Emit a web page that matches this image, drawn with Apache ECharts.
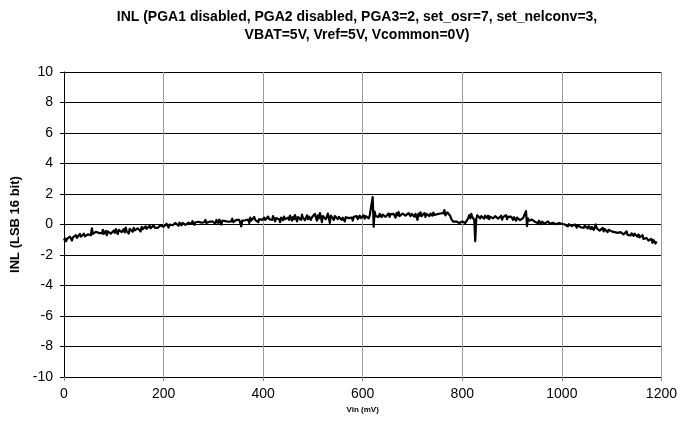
<!DOCTYPE html>
<html>
<head>
<meta charset="utf-8">
<script src="https://cdn.jsdelivr.net/npm/echarts@6/dist/echarts.min.js"></script>
<style>html,body{margin:0;padding:0;background:#fff;}#c{width:680px;height:423px;}</style>
</head>
<body>
<div id="c"></div>
<script>
const titleText = 'INL (PGA1 disabled, PGA2 disabled, PGA3=2, set_osr=7, set_nelconv=3,\nVBAT=5V, Vref=5V, Vcommon=0V)';
const xAxisName = 'Vin (mV)';
const yAxisName = 'INL (LSB 16 bit)';
const xStart = 0;
const xStep = 2;
const inlValues = [
  -1.05, -0.9, -1.1, -0.95, -0.85, -1.0, -0.8, -0.92, -1.05, -0.85, -0.78, -0.95, -0.7, -0.88, -0.75, -0.9, -0.62, -0.8, -0.72, -0.85, -0.6, -0.78, -0.68, -0.82, -0.65,
  -0.75, -0.55, -0.7, -0.25, -0.62, -0.5, -0.72, -0.48, -0.6, -0.4, -0.55, -0.68, -0.45, -0.58, -0.35, -0.62, -0.5, -0.42, -0.7, -0.45, -0.55, -0.38, -0.6, -0.48, -0.52,
  -0.4, -0.55, -0.3, -0.48, -0.62, -0.35, -0.45, -0.25, -0.5, -0.38, -0.3, -0.52, -0.2, -0.45, -0.35, -0.6, -0.28, -0.4, -0.32, -0.48, -0.22, -0.38, -0.3, -0.42, -0.25,
  -0.35, -0.2, -0.45, -0.15, -0.3, -0.22, -0.38, -0.12, -0.28, -0.18, -0.32, -0.08, -0.25, -0.15, -0.3, -0.05, -0.2, -0.28, -0.1, -0.22, -0.15, -0.25, -0.05, -0.18, -0.12,
  -0.15, -0.02, -0.12, 0.05, -0.08, -0.2, 0.0, -0.1, 0.08, -0.05, 0.02, -0.12, 0.1, -0.02, 0.05, -0.08, 0.12, 0.0, -0.05, 0.1, 0.02, 0.15, -0.02, 0.08, 0.05,
  0.12, 0.0, 0.18, 0.05, 0.22, 0.1, -0.02, 0.15, 0.25, 0.08, 0.18, 0.05, 0.28, 0.12, 0.2, 0.02, 0.15, 0.3, 0.1, 0.22, 0.08, 0.18, 0.25, 0.1, 0.2,
  0.15, 0.25, 0.05, 0.3, 0.18, 0.1, 0.32, 0.2, 0.0, 0.25, 0.15, 0.35, 0.22, 0.1, 0.28, 0.18, 0.05, 0.3, 0.2, 0.38, 0.15, 0.25, 0.12, 0.3, 0.22,
  0.18, 0.3, 0.1, -0.12, 0.25, 0.35, 0.15, 0.28, 0.4, 0.2, 0.32, 0.1, 0.45, 0.25, 0.35, 0.18, 0.5, 0.3, 0.22, 0.42, 0.15, 0.35, 0.28, 0.45, 0.3,
  0.25, 0.45, 0.3, 0.18, 0.4, 0.52, 0.35, 0.22, 0.48, 0.3, 0.55, 0.38, 0.2, 0.42, 0.3, 0.5, 0.35, 0.15, 0.45, 0.4, 0.28, 0.52, 0.35, 0.42, 0.3,
  0.45, 0.3, 0.58, 0.4, 0.25, 0.5, 0.35, 0.62, 0.42, 0.2, 0.48, 0.38, 0.55, 0.3, 0.65, 0.42, 0.5, 0.28, 0.45, 0.6, 0.35, 0.52, 0.4, 0.3, 0.48,
  0.55, 0.35, 0.7, 0.45, 0.25, 0.6, 0.4, 0.75, 0.5, 0.15, 0.55, 0.42, 0.68, 0.35, 0.5, 0.72, 0.4, 0.1, 0.58, 0.45, 0.65, 0.3, 0.55, 0.48, 0.62,
  0.35, 0.5, 0.4, 0.62, 0.3, 0.45, 0.55, 0.2, 0.48, 0.38, 0.6, 0.42, 0.32, 0.52, 0.45, 0.25, 0.5, 0.62, 0.4, 0.55, 0.35, 0.48, 0.58, 0.42, 0.5,
  0.45, 0.6, 0.38, 0.55, 0.48, 0.65, 0.4, 0.58, 0.5, 0.7, 1.8, -0.15, 0.85, 0.55, 0.45, 0.62, 0.5, 0.7, 0.58, 0.48, 0.65, 0.55, 0.72, 0.5, 0.62,
  0.58, 0.72, 0.5, 0.68, 0.8, 0.55, 0.7, 0.62, 0.45, 0.75, 0.6, 0.82, 0.55, 0.68, 0.5, 0.72, 0.62, 0.85, 0.58, 0.7, 0.48, 0.75, 0.65, 0.55, 0.7,
  0.6, 0.78, 0.52, 0.7, 0.62, 0.3, 0.72, 0.58, 0.8, 0.55, 0.68, 0.62, 0.75, 0.5, 0.7, 0.6, 0.82, 0.55, 0.72, 0.65, 0.58, 0.78, 0.62, 0.7, 0.6,
  0.68, 0.78, 0.62, 0.72, 0.85, 0.65, 0.75, 0.95, 0.6, 0.72, 0.8, 0.68, 0.75, 0.55, 0.35, 0.25, 0.18, 0.22, 0.12, 0.2, 0.15, 0.22, 0.1, 0.18, 0.15,
  0.2, 0.12, 0.22, 0.1, 0.18, 0.3, 0.45, 0.62, 0.4, 0.7, 0.5, 0.55, 0.3, -1.1, 0.35, 0.6, 0.48, 0.65, 0.4, 0.55, 0.45, 0.62, 0.38, 0.58, 0.5,
  0.42, 0.58, 0.35, 0.52, 0.45, 0.62, 0.4, 0.3, 0.55, 0.48, 0.6, 0.38, 0.5, 0.42, 0.58, 0.32, 0.48, 0.55, 0.4, 0.62, 0.35, 0.5, 0.45, 0.38, 0.52,
  0.4, 0.3, 0.48, 0.35, 0.25, 0.45, 0.32, 0.5, 0.28, 0.4, 0.2, 0.42, 0.3, 0.38, 0.88, -0.1, 0.4, 0.25, 0.35, 0.15, 0.32, 0.22, 0.38, 0.18, 0.28,
  0.2, 0.08, 0.25, 0.12, 0.02, 0.18, 0.1, 0.22, 0.05, 0.15, 0.0, 0.2, 0.1, 0.05, 0.18, -0.02, 0.12, 0.08, 0.15, 0.02, 0.12, -0.05, 0.1, 0.05, 0.08,
  0.05, -0.05, 0.1, 0.0, -0.08, 0.05, -0.12, 0.02, -0.05, 0.08, -0.1, -0.02, -0.15, 0.0, -0.08, -0.2, -0.05, 0.05, -0.12, -0.18, -0.05, -0.1, -0.22, -0.08, -0.15,
  -0.12, -0.25, -0.1, -0.2, -0.3, -0.15, -0.22, -0.35, -0.18, 0.0, -0.25, -0.32, -0.2, -0.4, -0.28, -0.35, -0.22, -0.45, -0.3, -0.38, -0.25, -0.5, -0.35, -0.42, -0.3,
  -0.45, -0.55, -0.38, -0.5, -0.6, -0.42, -0.55, -0.48, -0.62, -0.5, -0.4, -0.58, -0.65, -0.52, -0.6, -0.45, -0.68, -0.55, -0.62, -0.72, -0.58, -0.65, -0.75, -0.6, -0.7,
  -0.72, -0.8, -0.65, -0.85, -0.75, -0.9, -0.7, -0.95, -0.82, -1.0, -0.88, -0.78, -1.05, -0.92, -1.1, -0.95, -1.2, -1.02, -1.15, -1.25, -1.1
];

const seriesData = inlValues.map((v, i) => [xStart + i * xStep, v]);
const font = 'Arial, "Liberation Sans", sans-serif';

const chart = echarts.init(document.getElementById('c'), null, {renderer: 'canvas'});
chart.setOption({
  animation: false,
  backgroundColor: '#fff',
  title: {
    text: titleText,
    left: 352,
    top: 3,
    textAlign: 'center',
    textStyle: {fontFamily: font, fontSize: 14, fontWeight: 'bold', color: '#000', lineHeight: 18}
  },
  grid: {left: 64, right: 14, top: 72, bottom: 46, containLabel: false},
  xAxis: {
    type: 'value', min: 0, max: 1200, interval: 200,
    name: xAxisName, nameLocation: 'middle', nameGap: 29,
    nameTextStyle: {fontFamily: font, fontSize: 8, fontWeight: 'bold', color: '#000'},
    axisLine: {show: true, onZero: false, lineStyle: {color: '#000', width: 1}},
    axisTick: {show: true, length: 4, lineStyle: {color: '#888'}},
    axisLabel: {fontFamily: font, fontSize: 14, color: '#000', margin: 10, formatter: v => String(v)},
    splitLine: {show: true, lineStyle: {color: '#999', width: 1}}
  },
  yAxis: {
    type: 'value', min: -10, max: 10, interval: 2,
    name: yAxisName, nameLocation: 'middle', nameGap: 38, nameRotate: 90,
    nameTextStyle: {fontFamily: font, fontSize: 13, fontWeight: 'bold', color: '#000'},
    axisLine: {show: true, onZero: false, lineStyle: {color: '#000', width: 1}},
    axisTick: {show: true, length: 4, lineStyle: {color: '#000'}},
    axisLabel: {fontFamily: font, fontSize: 14, color: '#000', margin: 11},
    splitLine: {show: true, lineStyle: {color: '#000', width: 1}}
  },
  series: [{
    type: 'line',
    data: seriesData,
    showSymbol: false,
    symbol: 'none',
    sampling: false,
    lineStyle: {color: '#000', width: 2.2, join: 'round'},
    z: 5
  }]
});
</script>
</body>
</html>
